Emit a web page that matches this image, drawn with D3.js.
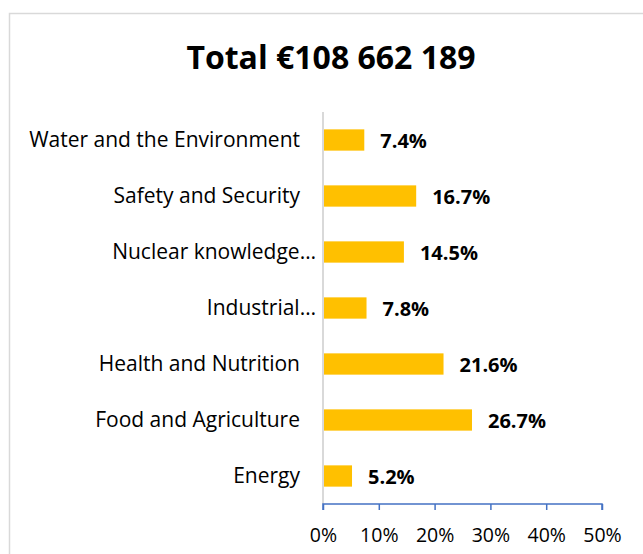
<!DOCTYPE html>
<html>
<head>
<meta charset="utf-8">
<script src="https://cdn.jsdelivr.net/npm/d3@7"></script>
<style>
  body { margin: 0; background: #fff; }
  text { font-family: "Open Sans", Lato, sans-serif; fill: #000; }
</style>
</head>
<body>
<svg id="canvas" width="643" height="554"></svg>
<script>
let categories = ['Water and the Environment', 'Safety and Security', 'Nuclear knowledge…', 'Industrial…', 'Health and Nutrition', 'Food and Agriculture', 'Energy']
let shares = [7.4, 16.7, 14.5, 7.8, 21.6, 26.7, 5.2]
let tickValues = [0, 10, 20, 30, 40, 50]
let title = 'Total €108 662 189'

let canvas = d3.select('#canvas')

// chart frame
canvas.append('rect')
    .attr('x', 9.5).attr('y', 13.5)
    .attr('width', 660).attr('height', 600)
    .attr('fill', 'none')
    .attr('stroke', '#d9d9d9')
    .attr('stroke-width', 1.5)

canvas.append('text')
    .attr('x', 331).attr('y', 69)
    .attr('text-anchor', 'middle')
    .attr('font-size', 32)
    .attr('font-weight', 'bold')
    .text(title)

let xScale = d3.scaleLinear()
    .domain([0, 50])
    .range([323, 602])

let yScale = d3.scaleBand()
    .domain(categories)
    .range([112, 504])
    .paddingInner(0.62)
    .paddingOuter(0.31)

// vertical category axis line
canvas.append('line')
    .attr('x1', xScale(0)).attr('x2', xScale(0))
    .attr('y1', 112).attr('y2', 504)
    .attr('stroke', '#d9d9d9')
    .attr('stroke-width', 2)

canvas.selectAll('.bar')
    .data(shares)
    .enter()
    .append('rect')
    .attr('class', 'bar')
    .attr('x', xScale(0) + 1)
    .attr('y', (d, i) => yScale(categories[i]))
    .attr('width', (d) => xScale(d) - xScale(0) - 1)
    .attr('height', yScale.bandwidth())
    .attr('fill', '#ffc000')

canvas.selectAll('.value')
    .data(shares)
    .enter()
    .append('text')
    .attr('class', 'value')
    .attr('x', (d) => xScale(d) + 16)
    .attr('y', (d, i) => yScale(categories[i]) + yScale.bandwidth() / 2 + 8)
    .attr('font-size', 20)
    .attr('font-weight', 'bold')
    .text((d) => d.toFixed(1) + '%')

canvas.selectAll('.cat')
    .data(categories)
    .enter()
    .append('text')
    .attr('class', 'cat')
    .attr('x', (d) => d.endsWith('…') ? 316 : 300)
    .attr('y', (d) => yScale(d) + yScale.bandwidth() / 2 + 7)
    .attr('text-anchor', 'end')
    .attr('font-size', 21)
    .text((d) => d)

// x axis
let xAxis = d3.axisBottom(xScale)
    .tickValues(tickValues)
    .tickSize(6)
    .tickFormat((d) => d + '%')

let axisG = canvas.append('g')
    .attr('transform', 'translate(0,504)')
    .call(xAxis)

axisG.select('.domain')
    .attr('d', 'M' + xScale(0) + ',6V0H' + xScale(50) + 'V6')
    .attr('stroke', '#4472c4')
    .attr('stroke-width', 1.5)
axisG.selectAll('.tick line')
    .attr('stroke', '#4472c4')
    .attr('stroke-width', 1.5)
axisG.selectAll('.tick text')
    .attr('font-family', '"Open Sans", Lato, sans-serif')
    .attr('font-size', 19.5)
    .attr('fill', '#000')
    .attr('dy', 0)
    .attr('y', 38)
</script>
</body>
</html>
